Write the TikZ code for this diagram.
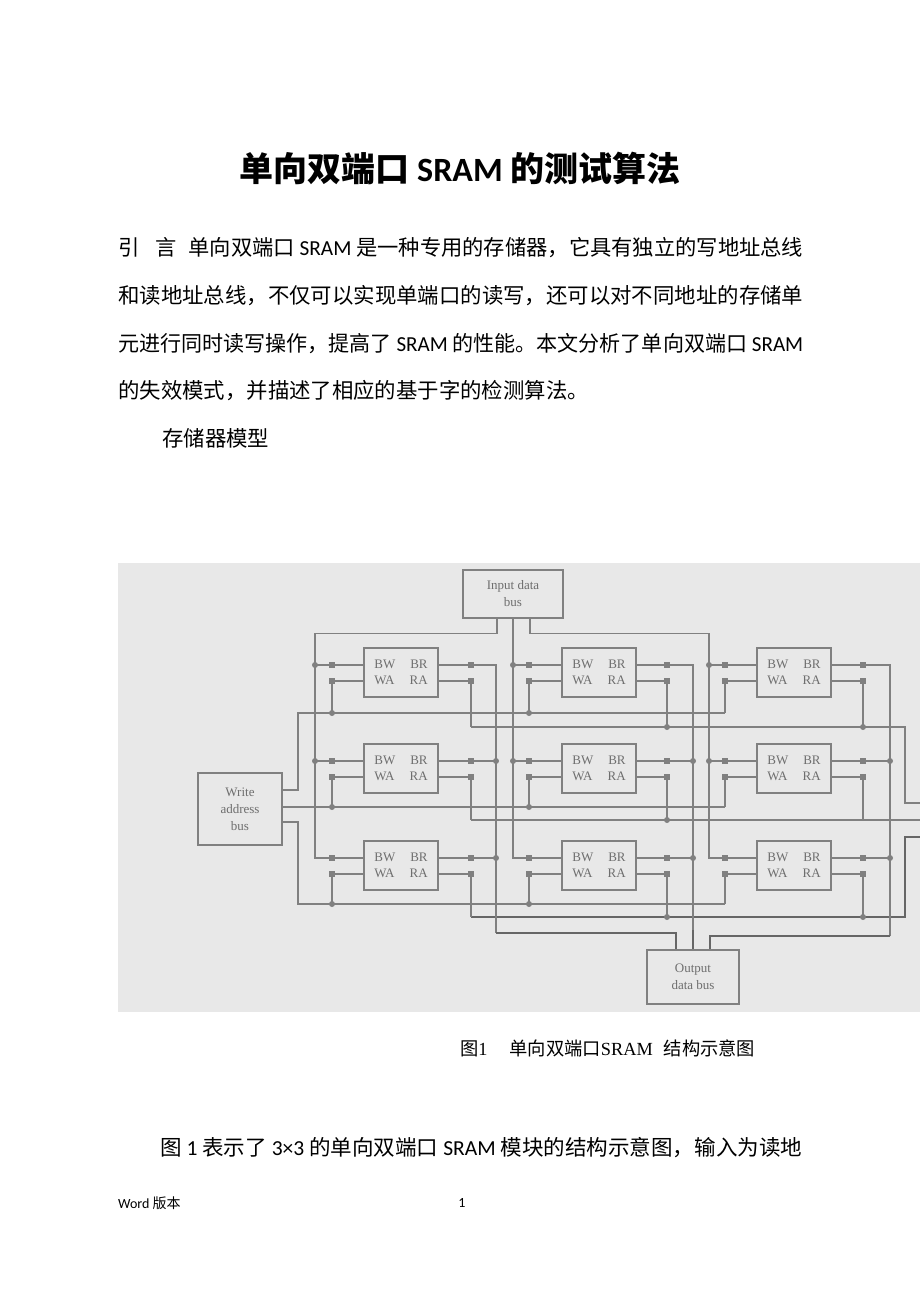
\documentclass[tikz,border=0pt]{standalone}
\usepackage{fontspec}
\usepackage{graphicx}
\setmainfont{Carlito}
\newfontfamily\zh{Noto Sans CJK SC}
\newfontfamily\la{Carlito}
\newfontfamily\sr{Liberation Serif}
\definecolor{figbg}{HTML}{E8E8E8}
\definecolor{wirec}{HTML}{808080}
\definecolor{wired}{HTML}{666666}
\definecolor{boxtext}{HTML}{6E6E6E}
\tikzset{
  wire/.style={draw=wirec, line width=1.2pt},
  darkwire/.style={draw=wired, line width=1.6pt},
  cellbox/.style={draw=wirec, line width=1.2pt, fill=figbg, minimum width=74pt, minimum height=49pt, inner sep=0pt, align=center, text=boxtext, font=\sr\fontsize{13}{16}\selectfont},
  busbox/.style={draw=wirec, line width=1.2pt, fill=figbg, inner sep=0pt, align=center, text=boxtext, font=\sr\fontsize{13}{17}\selectfont},
  bodytext/.style={anchor=west, inner sep=0pt, font=\zh\fontsize{21.4}{26}\selectfont},
}
\newcommand\jdot[1]{\fill[wirec] #1 circle (3pt);}
\newcommand\jsq[1]{\fill[wirec] #1 ++(-2.7pt,-2.7pt) rectangle ++(5.4pt,5.4pt);}
\begin{document}
\begin{tikzpicture}[x=1pt,y=-1pt]
\fill[white] (0,0) rectangle (920,1302);
\useasboundingbox (0,0) rectangle (920,1302);

% ---------- text ----------
\node[inner sep=0pt, font=\zh\bfseries\fontsize{34}{40}\selectfont] (title) at (460,168) {单向双端口 {\la\bfseries SRAM} 的测试算法};

\node[bodytext] (p1) at (118,248) {\resizebox{685pt}{\height}{引\hspace{0.75em}言\hspace{0.55em}单向双端口 {\la SRAM} 是一种专用的存储器，它具有独立的写地址总线}};
\node[bodytext] (p2) at (118,296) {\resizebox{685pt}{\height}{和读地址总线，不仅可以实现单端口的读写，还可以对不同地址的存储单}};
\node[bodytext] (p3) at (118,344) {\resizebox{685pt}{\height}{元进行同时读写操作，提高了 {\la SRAM} 的性能。本文分析了单向双端口 {\la SRAM}}};
\node[bodytext] (p4) at (118,391) {的失效模式，并描述了相应的基于字的检测算法。};
\node[bodytext] (p5) at (162,438) {存储器模型};

% ---------- figure ----------
\fill[figbg] (118,563) rectangle (920,1012);

\node[busbox, minimum width=100pt, minimum height=48pt] (inb) at (513,594) {Input data\\bus};
\node[busbox, minimum width=84pt, minimum height=72pt] (wab) at (240,809) {Write\\address\\bus};
\node[busbox, minimum width=92pt, minimum height=54pt] (outb) at (693,977) {Output\\data bus};

% data input buses
\draw[wire] ([xshift=-16pt]inb.south) -- ++(0,15) -| (315,858) -- (332,858);
\draw[wire] (inb.south) -- (513,858) -- (529,858);
\draw[wire] ([xshift=17pt]inb.south) -- ++(0,15) -| (709,858) -- (725,858);

% write address lines
\draw[wire] ([yshift=19pt]wab.east) -| (298,713) -- (725,713);
\draw[wire] ([yshift=2pt]wab.east) -- (725,807);
\draw[wire] ([yshift=-13pt]wab.east) -| (298,904) -- (725,904);

% read address lines
\draw[wire] (471,727) -- (905,727) -- (905,803) -- (920,803);
\draw[wire] (471,820) -- (920,820);
\draw[darkwire] (471,917) -- (905,917) -- (905,837) -- (920,837);

% output data lines
\draw[wire] (471,665) -- (496,665) -- (496,933);
\draw[darkwire] (496,933) -| ([xshift=-17pt]outb.north);
\draw[wire] (667,665) -- (693,665) -- (693,930);
\draw[darkwire] (693,930) -- (outb.north);
\draw[wire] (863,665) -- (890,665) -- (890,936);
\draw[darkwire] (890,936) -| ([xshift=17pt]outb.north);

% cells
\foreach \c/\L/\D/\S/\R/\O in {1/364/315/332/471/496, 2/562/513/529/667/693, 3/757/709/725/863/890}{
  \foreach \r/\T/\W/\Q in {1/648/713/727, 2/744/807/820, 3/841/904/917}{
    \pgfmathsetmacro\yb{\T+17}
    \pgfmathsetmacro\ya{\T+33}
    \node[cellbox] (c\r\c) at (\L+37,\T+24.5) {BW\hspace{15pt}BR\\WA\hspace{15pt}RA};
    \draw[wire] (\S,\yb) -- ([yshift=7.5pt]c\r\c.west);
    \draw[wire] (\S,\ya) -- ([yshift=-8.5pt]c\r\c.west);
    \ifnum\r<3 \draw[wire] (\D,\yb) -- (\S,\yb); \jdot{(\D,\yb)} \fi
    \draw[wire] ([yshift=7.5pt]c\r\c.east) -- (\R,\yb);
    \draw[wire] ([yshift=-8.5pt]c\r\c.east) -- (\R,\ya);
    \ifnum\r>1 \draw[wire] (\R,\yb) -- (\O,\yb); \jdot{(\O,\yb)} \fi
    \draw[wire] (\S,\ya) -- (\S,\W);
    \ifnum\c<3 \jdot{(\S,\W)} \fi
    \draw[wire] (\R,\ya) -- (\R,\Q);
    \ifnum\c>1 \ifnum\r\c=23 \else \jdot{(\R,\Q)} \fi \fi
    \jsq{(\S,\yb)} \jsq{(\S,\ya)} \jsq{(\R,\yb)} \jsq{(\R,\ya)}
  }
}

% ---------- caption and following text ----------
\node[anchor=west, inner sep=0pt, font=\zh\fontsize{18.5}{22}\selectfont] (cap) at (460,1048) {\resizebox{295pt}{\height}{图{\sr 1}\hspace{1.2em}单向双端口{\sr SRAM}\hspace{0.6em}结构示意图}};

\node[bodytext] (p6) at (160,1148) {\resizebox{642pt}{\height}{图 {\la 1} 表示了 {\la 3×3} 的单向双端口 {\la SRAM} 模块的结构示意图，输入为读地}};

\node[anchor=west, inner sep=0pt, font=\zh\fontsize{14}{17}\selectfont] (foot) at (118,1203) {{\la Word} 版本};
\node[inner sep=0pt, font=\la\fontsize{14}{17}\selectfont] (pg) at (462,1203) {1};
\end{tikzpicture}
\end{document}
